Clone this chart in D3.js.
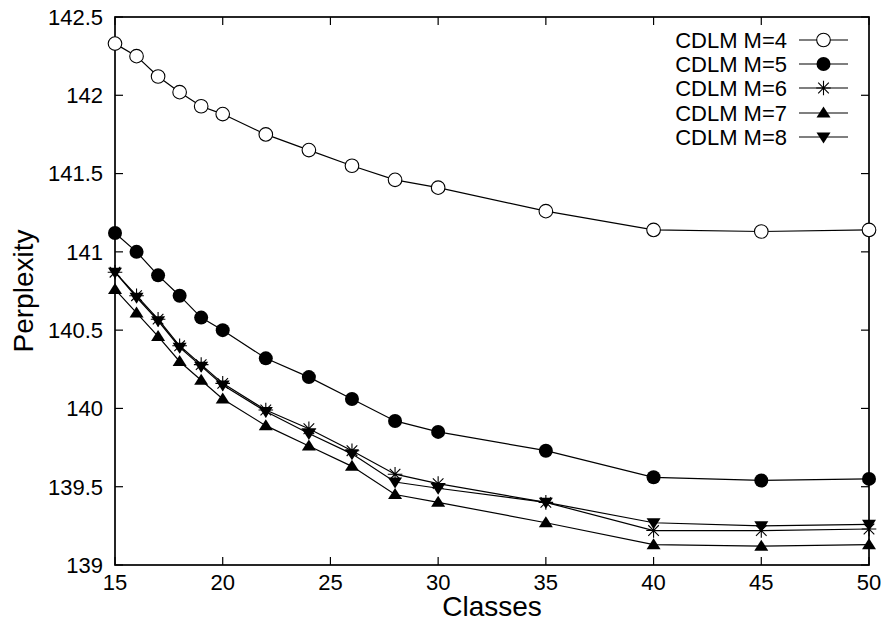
<!DOCTYPE html>
<html>
<head>
<meta charset="utf-8">
<script src="https://cdn.jsdelivr.net/npm/d3@7"></script>
<style>
  html, body { margin: 0; padding: 0; background: #fff; }
  svg { display: block; font-family: "Liberation Sans", Arial, Helvetica, sans-serif; }
</style>
</head>
<body>
<svg id="chart" width="883" height="621"></svg>
<script>
// Number of word classes on the x axis
const classes = [15, 16, 17, 18, 19, 20, 22, 24, 26, 28, 30, 35, 40, 45, 50];

// Perplexity for each CDLM order M
const m4 = [142.33, 142.25, 142.12, 142.02, 141.93, 141.88, 141.75, 141.65, 141.55, 141.46, 141.41, 141.26, 141.14, 141.13, 141.14];
const m5 = [141.12, 141.00, 140.85, 140.72, 140.58, 140.50, 140.32, 140.20, 140.06, 139.92, 139.85, 139.73, 139.56, 139.54, 139.55];
const m6 = [140.87, 140.72, 140.57, 140.40, 140.28, 140.16, 139.99, 139.87, 139.73, 139.58, 139.52, 139.40, 139.22, 139.22, 139.23];
const m7 = [140.76, 140.61, 140.46, 140.30, 140.18, 140.06, 139.89, 139.76, 139.63, 139.45, 139.40, 139.27, 139.13, 139.12, 139.13];
const m8 = [140.87, 140.71, 140.56, 140.39, 140.27, 140.15, 139.98, 139.84, 139.71, 139.53, 139.49, 139.40, 139.27, 139.25, 139.26];

const seriesNames = ["CDLM M=4", "CDLM M=5", "CDLM M=6", "CDLM M=7", "CDLM M=8"];
const seriesValues = [m4, m5, m6, m7, m8];
const seriesMarkers = ["openCircle", "circle", "star", "triangleUp", "triangleDown"];

const xTicks = [15, 20, 25, 30, 35, 40, 45, 50];
const yTicks = [139, 139.5, 140, 140.5, 141, 141.5, 142, 142.5];

const svg = d3.select("#chart");
const plotL = 115, plotR = 869, plotT = 17, plotB = 565;

const x = d3.scaleLinear().domain([15, 50]).range([plotL, plotR]);
const y = d3.scaleLinear().domain([139, 142.5]).range([plotB, plotT]);

const ink = "#000";
const tickLen = 8;
const fs = 22;

// inward ticks on all four sides
const frame = svg.append("g");
xTicks.forEach(t => {
  frame.append("line").attr("x1", x(t)).attr("x2", x(t)).attr("y1", plotB).attr("y2", plotB - tickLen)
    .attr("stroke", ink).attr("stroke-width", 1.2);
  frame.append("line").attr("x1", x(t)).attr("x2", x(t)).attr("y1", plotT).attr("y2", plotT + tickLen)
    .attr("stroke", ink).attr("stroke-width", 1.2);
  svg.append("text").attr("x", x(t)).attr("y", 590).attr("text-anchor", "middle")
    .attr("font-size", fs).attr("fill", ink).text(t);
});
yTicks.forEach(t => {
  frame.append("line").attr("x1", plotL).attr("x2", plotL + tickLen).attr("y1", y(t)).attr("y2", y(t))
    .attr("stroke", ink).attr("stroke-width", 1.2);
  frame.append("line").attr("x1", plotR).attr("x2", plotR - tickLen).attr("y1", y(t)).attr("y2", y(t))
    .attr("stroke", ink).attr("stroke-width", 1.2);
  svg.append("text").attr("x", 103).attr("y", y(t)).attr("dy", "0.36em").attr("text-anchor", "end")
    .attr("font-size", fs).attr("fill", ink).text(d3.format("")(t));
});
frame.append("rect").attr("x", plotL).attr("y", plotT).attr("width", plotR - plotL).attr("height", plotB - plotT)
  .attr("fill", "none").attr("stroke", ink).attr("stroke-width", 1.7);

// axis titles
svg.append("text").attr("x", (plotL + plotR) / 2).attr("y", 616).attr("text-anchor", "middle")
  .attr("font-size", 28).attr("fill", ink).text("Classes");
svg.append("text").attr("transform", `translate(33,${(plotT + plotB) / 2}) rotate(-90)`)
  .attr("text-anchor", "middle").attr("font-size", 28).attr("fill", ink).text("Perplexity");

// marker drawing
function drawMarker(g, kind, cx, cy) {
  if (kind === "openCircle") {
    g.append("circle").attr("cx", cx).attr("cy", cy).attr("r", 6.8).attr("fill", "#fff")
      .attr("stroke", ink).attr("stroke-width", 1.1);
  } else if (kind === "circle") {
    g.append("circle").attr("cx", cx).attr("cy", cy).attr("r", 7).attr("fill", ink);
  } else if (kind === "star") {
    const s = 7.3, d = 5.3;
    const p = `M${cx - s},${cy}H${cx + s}M${cx},${cy - s}V${cy + s}` +
      `M${cx - d},${cy - d}L${cx + d},${cy + d}M${cx - d},${cy + d}L${cx + d},${cy - d}`;
    g.append("path").attr("d", p).attr("stroke", ink).attr("stroke-width", 1.1).attr("fill", "none");
  } else if (kind === "triangleUp") {
    g.append("path").attr("d", `M${cx},${cy - 6.5}L${cx + 7},${cy + 4.5}L${cx - 7},${cy + 4.5}Z`)
      .attr("fill", ink);
  } else if (kind === "triangleDown") {
    g.append("path").attr("d", `M${cx},${cy + 6.5}L${cx + 7},${cy - 4.5}L${cx - 7},${cy - 4.5}Z`)
      .attr("fill", ink);
  }
}

const line = d3.line().x(d => x(d[0])).y(d => y(d[1]));

seriesValues.forEach((vals, i) => {
  const pts = classes.map((c, j) => [c, vals[j]]);
  const g = svg.append("g");
  g.append("path").attr("d", line(pts)).attr("fill", "none").attr("stroke", ink).attr("stroke-width", 1.2);
  pts.forEach(p => drawMarker(g, seriesMarkers[i], x(p[0]), y(p[1])));
});

// legend
const legendRowY = [40, 64, 88, 113, 137];
seriesNames.forEach((name, i) => {
  const g = svg.append("g");
  const ly = legendRowY[i];
  g.append("text").attr("x", 787).attr("y", ly).attr("dy", "0.36em").attr("text-anchor", "end")
    .attr("font-size", fs).attr("fill", ink).text(name);
  g.append("line").attr("x1", 799).attr("x2", 848).attr("y1", ly).attr("y2", ly)
    .attr("stroke", ink).attr("stroke-width", 1.2);
  drawMarker(g, seriesMarkers[i], 823.5, ly);
});
</script>
</body>
</html>
